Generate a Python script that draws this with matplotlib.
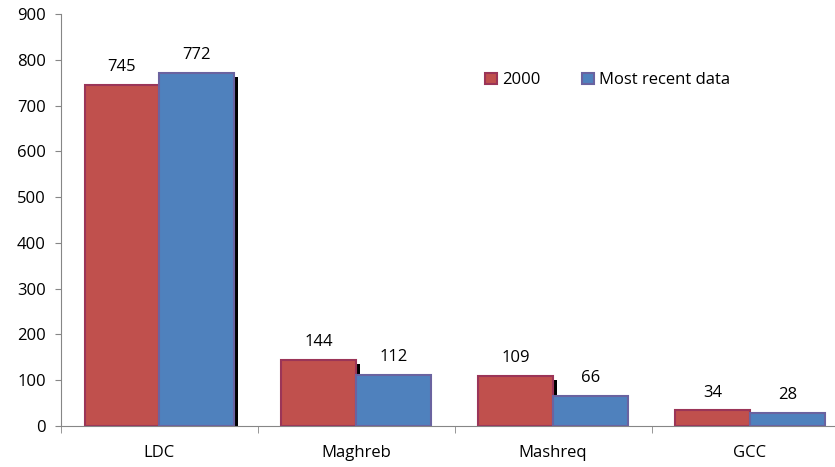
import numpy as np
import matplotlib.pyplot as plt
from matplotlib.patches import Patch
import matplotlib.transforms as mtransforms

plt.rcParams['font.family'] = ['Open Sans', 'DejaVu Sans']

regions = ["LDC", "Maghreb", "Mashreq", "GCC"]
v2000 = [745, 144, 109, 34]
recent = [772, 112, 66, 28]

red = "#C0504D"
red_edge = "#9B3558"
blue = "#4F81BD"
blue_edge = "#6A63A0"

fig = plt.figure(figsize=(8.35, 4.67), dpi=100)
# plot area runs a bit past the right edge of the picture, as in the original
ax = fig.add_axes([0.073, 0.088, 0.943, 0.882])

x = np.arange(len(regions))
w = 0.38

# drop shadow (only the taller bar of each pair shows one in the original)
shadow_tr = ax.transData + mtransforms.ScaledTranslation(4/100, -4/100, fig.dpi_scale_trans)
a = np.array(v2000)
b = np.array(recent)
taller_red = a > b
ax.bar((x - w/2)[taller_red], a[taller_red], w, color="black", transform=shadow_tr, zorder=1)
ax.bar((x + w/2)[~taller_red], b[~taller_red], w, color="black", transform=shadow_tr, zorder=1)

b1 = ax.bar(x - w/2, v2000, w, color=red, edgecolor=red_edge, linewidth=1.5, zorder=2)
b2 = ax.bar(x + w/2, recent, w, color=blue, edgecolor=blue_edge, linewidth=1.5, zorder=3)

for bars, vals in [(b1, v2000), (b2, recent)]:
    for r, v in zip(bars, vals):
        ax.annotate(str(v), (r.get_x() + r.get_width()/2, v), xytext=(0, 7),
                    textcoords="offset points", ha="center", va="bottom", fontsize=12)

ax.set_xlim(-0.5, len(regions) - 0.5)
ax.set_ylim(0, 900)
ax.set_yticks(np.arange(0, 901, 100))
ax.set_xticks(x)
ax.set_xticklabels(regions)
ax.set_xticks(np.arange(-0.5, len(regions)), minor=True)
ax.tick_params(axis="x", which="major", length=0, pad=14, labelsize=12)
ax.tick_params(axis="x", which="minor", length=5, color="#868686", direction="out")
ax.tick_params(axis="y", length=4, color="#868686", labelsize=12, pad=7)

for s in ["top", "right"]:
    ax.spines[s].set_visible(False)
for s in ["left", "bottom"]:
    ax.spines[s].set_color("#868686")

handles = [Patch(facecolor=red, edgecolor=red_edge, linewidth=1.5, label="2000"),
           Patch(facecolor=blue, edgecolor=blue_edge, linewidth=1.5, label="Most recent data")]
ax.legend(handles=handles, loc="upper left", bbox_to_anchor=(0.52, 0.895), ncol=2,
          frameon=False, fontsize=12, handlelength=0.7, handleheight=0.7,
          handletextpad=0.3, columnspacing=2.5)

fig.savefig("out.png", dpi=100)
